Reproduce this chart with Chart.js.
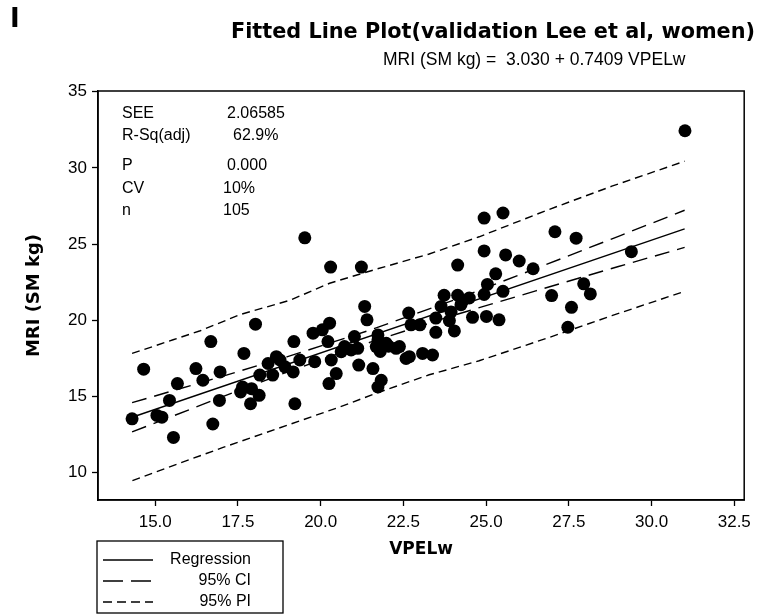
<!DOCTYPE html>
<html>
<head>
<meta charset="utf-8">
<script src="https://cdn.jsdelivr.net/npm/chart.js@4.4.1/dist/chart.umd.min.js"></script>
<style>
  html, body { margin: 0; padding: 0; background: #fff; }
  canvas { display: block; }
</style>
</head>
<body>
<canvas id="grafico_fitted" width="757" height="616"></canvas>
<script>
// ---------------- dados ----------------
var ptX = [14.30, 14.65, 15.55, 15.43, 15.05, 15.20, 15.67, 16.23, 16.44, 16.68,
           16.96, 16.94, 16.74, 17.68, 18.03, 17.64, 17.58, 17.91, 17.88, 18.14,
           18.16, 18.41, 18.55, 18.77, 18.92, 21.33, 21.40, 20.27, 19.77, 20.05,
           20.22, 19.19, 19.17, 19.37, 19.82, 20.32, 20.47, 20.25, 19.22, 20.72,
           21.02, 21.12, 20.92, 21.15, 21.58, 21.83, 21.73, 21.73, 21.68, 21.98,
           22.28, 22.66, 22.58, 24.94, 25.59, 26.00, 24.14, 25.29, 25.04, 25.51,
           24.94, 23.73, 24.14, 24.49, 24.24, 23.64, 23.94, 23.48, 23.89, 24.59,
           25.01, 25.39, 22.73, 23.00, 23.48, 24.04, 22.38, 22.68, 23.08, 23.38,
           25.51, 24.94, 27.08, 27.72, 26.42, 29.39, 27.95, 28.15, 26.98, 27.58,
           27.47, 31.01, 19.52, 20.30, 21.23, 20.62, 21.73, 18.66, 24.30, 22.05,
           21.80];
var ptY = [13.53, 16.79, 12.31, 14.74, 13.75, 13.64, 15.84, 16.83, 16.06, 18.60,
           16.61, 14.74, 13.19, 17.82, 19.74, 15.62, 15.29, 15.51, 14.52, 15.07,
           16.40, 17.16, 16.40, 17.39, 16.94, 20.91, 20.03, 19.81, 19.15, 19.37,
           18.60, 18.60, 16.61, 17.39, 17.28, 17.39, 16.50, 15.84, 14.52, 18.27,
           18.93, 18.16, 18.05, 17.06, 16.83, 16.06, 15.62, 19.04, 18.27, 18.49,
           18.16, 20.47, 17.49, 24.55, 24.29, 23.89, 23.62, 23.05, 22.35, 21.90,
           21.69, 21.64, 21.64, 21.46, 21.02, 20.91, 20.54, 20.14, 19.97, 20.19,
           20.25, 20.03, 19.70, 19.70, 19.21, 19.30, 18.27, 17.61, 17.82, 17.72,
           27.04, 26.71, 25.81, 25.39, 23.38, 24.50, 22.39, 21.73, 21.62, 20.85,
           19.54, 32.44, 25.41, 23.49, 23.49, 17.94, 18.71, 17.61, 21.30, 18.30,
           17.95];

var regX = [14.30, 31.00];
var regY = [13.63, 26.00];

var ciX     = [14.30, 17.00, 19.00, 21.50, 24.00, 26.50, 29.00, 31.00];
var ciUpper = [14.59, 16.30, 17.61, 19.36, 21.31, 23.39, 25.51, 27.22];
var ciLower = [12.67, 14.95, 16.61, 18.56, 20.31, 21.93, 23.53, 24.78];

var piUpX = [14.30, 15.54, 16.36, 17.56, 19.07, 20.27, 21.69, 23.28, 24.79, 26.81, 28.80, 31.00];
var piUpY = [17.82, 18.72, 19.31, 20.37, 21.31, 22.43, 23.36, 24.35, 25.48, 27.20, 28.80, 30.44];
var piLoX = [14.31, 15.54, 17.05, 19.07, 20.57, 21.78, 23.28, 24.79, 26.81, 28.80, 31.00];
var piLoY = [ 9.47, 10.46, 11.65, 13.17, 14.30, 15.29, 16.42, 17.34, 18.80, 20.30, 21.90];

var xTicks = [15.0, 17.5, 20.0, 22.5, 25.0, 27.5, 30.0, 32.5];
var yTicks = [10, 15, 20, 25, 30, 35];

var statLabels = ['SEE', 'R-Sq(adj)', 'P', 'CV', 'n'];
var statValues = ['2.06585', '62.9%', '0.000', '10%', '105'];

var legendLabels = ['Regression', '95% CI', '95% PI'];

// ---------------- helpers ----------------
function pares(xs, ys) {
  return xs.map(function (x, i) { return { x: x, y: ys[i] }; });
}

var fonte = '"Liberation Sans", Arial, sans-serif';
var fonteTitulo = '"DejaVu Sans", "Liberation Sans", sans-serif';

var dashCI = [15, 8];
var dashPI = [8, 5];

function linha(dados, dash) {
  return {
    data: dados,
    showLine: true,
    borderColor: '#000',
    borderWidth: 1.4,
    borderDash: dash,
    pointRadius: 0,
    fill: false,
    tension: 0
  };
}

// textos e moldura
var anotacoes = {
  id: 'anotacoes',
  afterDraw: function (chart) {
    var ctx = chart.ctx;
    var a = chart.chartArea;
    ctx.save();

    // moldura do gráfico
    ctx.strokeStyle = '#000';
    ctx.lineWidth = 1.5;
    ctx.setLineDash([]);
    ctx.strokeRect(a.left, a.top, a.right - a.left, a.bottom - a.top);

    ctx.fillStyle = '#000';
    ctx.textBaseline = 'middle';

    // letra do painel
    ctx.font = 'bold 26px ' + fonteTitulo;
    ctx.textAlign = 'left';
    ctx.fillText('I', 10, 20);

    // título e subtítulo
    ctx.font = 'bold 21px ' + fonteTitulo;
    ctx.fillText('Fitted Line Plot(validation Lee et al, women)', 231, 33, 524);
    ctx.font = '17.5px ' + fonte;
    ctx.fillText('MRI (SM kg) =  3.030 + 0.7409 VPELw', 383, 60, 308);

    // caixa de estatísticas
    ctx.font = '16px ' + fonte;
    var linhasY = [114, 136, 166, 189, 211];
    var valX = [227, 233, 227, 223, 223];
    for (var i = 0; i < statLabels.length; i++) {
      ctx.fillText(statLabels[i], 122, linhasY[i]);
      ctx.fillText(statValues[i], valX[i], linhasY[i]);
    }

    // legenda
    ctx.lineWidth = 1.3;
    ctx.strokeRect(97, 541, 186, 72);
    var legY = [560, 581, 602];
    var dashes = [[], [20, 8], [9, 5]];
    ctx.font = '16px ' + fonte;
    ctx.textAlign = 'right';
    for (var j = 0; j < legendLabels.length; j++) {
      ctx.setLineDash(dashes[j]);
      ctx.lineWidth = 1.4;
      ctx.beginPath();
      ctx.moveTo(103, legY[j]);
      ctx.lineTo(153, legY[j]);
      ctx.stroke();
      ctx.setLineDash([]);
      ctx.fillText(legendLabels[j], 251, legY[j]);
    }
    ctx.restore();
  }
};

var data = {
  datasets: [
    {
      label: 'Pontos',
      data: pares(ptX, ptY),
      backgroundColor: '#000',
      borderColor: '#000',
      borderWidth: 0,
      pointRadius: 6.5,
      showLine: false
    },
    linha(pares(regX, regY), []),
    linha(pares(ciX, ciUpper), dashCI),
    linha(pares(ciX, ciLower), dashCI),
    linha(pares(piUpX, piUpY), dashPI),
    linha(pares(piLoX, piLoY), dashPI)
  ]
};

var options = {
  responsive: false,
  animation: false,
  layout: { padding: { left: 22, right: 12, top: 91, bottom: 54 } },
  plugins: {
    legend: { display: false },
    tooltip: { enabled: false }
  },
  scales: {
    x: {
      type: 'linear',
      min: 13.27,
      max: 32.8,
      afterBuildTicks: function (s) { s.ticks = xTicks.map(function (v) { return { value: v }; }); },
      afterFit: function (s) { s.height = 62; },
      ticks: {
        color: '#000',
        padding: 6,
        maxRotation: 0,
        font: { family: fonte, size: 17 },
        callback: function (v) { return Number(v).toFixed(1); }
      },
      grid: { drawOnChartArea: false, drawTicks: true, tickLength: 6, tickColor: '#000', tickWidth: 1.3 },
      border: { display: true, color: '#000', width: 1.5 },
      title: { display: true, text: 'VPELw', color: '#000', font: { family: fonteTitulo, size: 17, weight: 'bold' }, padding: 2 }
    },
    y: {
      type: 'linear',
      min: 8.2,
      max: 35.05,
      afterBuildTicks: function (s) { s.ticks = yTicks.map(function (v) { return { value: v }; }); },
      afterFit: function (s) { s.width = 76; },
      ticks: {
        color: '#000',
        padding: 5,
        font: { family: fonte, size: 17 }
      },
      grid: { drawOnChartArea: false, drawTicks: true, tickLength: 6, tickColor: '#000', tickWidth: 1.3 },
      border: { display: true, color: '#000', width: 1.5 },
      title: { display: true, text: 'MRI (SM kg)', color: '#000', font: { family: fonteTitulo, size: 18, weight: 'bold' }, padding: 2 }
    }
  }
};

var ctx = document.getElementById('grafico_fitted').getContext('2d');
var grafico_fitted = new Chart(ctx, {
  type: 'scatter',
  data: data,
  options: options,
  plugins: [anotacoes]
});
</script>
</body>
</html>
